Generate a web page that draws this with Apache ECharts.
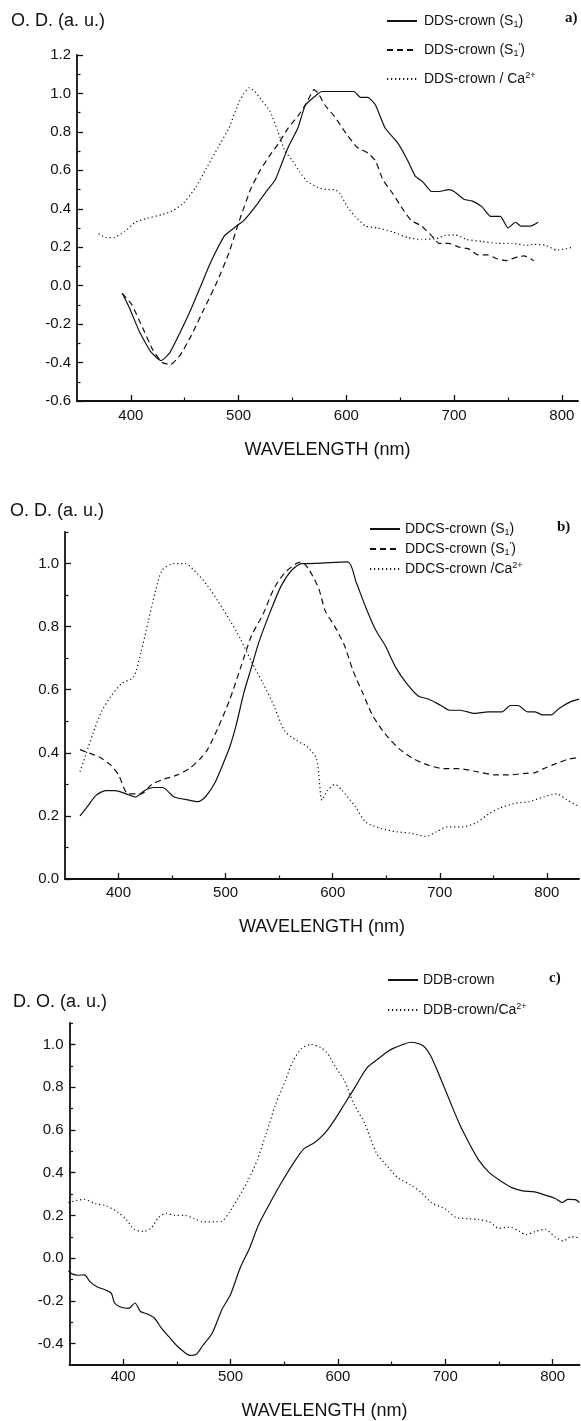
<!DOCTYPE html>
<html>
<head>
<meta charset="utf-8">
<script src="https://cdn.jsdelivr.net/npm/echarts@6.0.0/dist/echarts.min.js"></script>
<style>
  html, body { margin: 0; padding: 0; background: #fff; }
  #chart { width: 581px; height: 1421px; }
</style>
</head>
<body>
<div id="chart"></div>
<script>
// ---- panel a) DDS-crown ----
const aS1X = [392, 399, 408, 418, 428, 436, 446, 456, 465, 474, 487, 498, 505, 518, 527, 534, 539, 546, 555, 562, 572, 577, 607, 613, 620, 627, 636, 648, 657, 664, 671, 679, 686, 695, 700, 709, 717, 726, 734, 743, 750, 757, 762, 771, 778];
const aS1Y = [-0.04, -0.12, -0.24, -0.34, -0.39, -0.35, -0.24, -0.12, 0.0, 0.12, 0.26, 0.31, 0.34, 0.43, 0.50, 0.55, 0.62, 0.72, 0.82, 0.94, 0.99, 1.01, 1.01, 0.98, 0.98, 0.94, 0.82, 0.74, 0.65, 0.57, 0.54, 0.49, 0.49, 0.50, 0.49, 0.45, 0.44, 0.41, 0.36, 0.36, 0.30, 0.33, 0.31, 0.31, 0.33];
const aS1pX = [392, 401, 411, 420, 429, 437, 446, 456, 468, 480, 491, 499, 502, 511, 520, 528, 537, 546, 556, 563, 570, 574, 580, 589, 600, 610, 620, 627, 634, 643, 651, 660, 670, 679, 686, 695, 705, 714, 722, 731, 740, 748, 759, 765, 774];
const aS1pY = [-0.04, -0.10, -0.22, -0.33, -0.40, -0.41, -0.36, -0.26, -0.12, 0.02, 0.17, 0.31, 0.36, 0.50, 0.60, 0.67, 0.74, 0.82, 0.89, 0.95, 1.02, 1.00, 0.94, 0.88, 0.79, 0.72, 0.69, 0.65, 0.55, 0.48, 0.41, 0.34, 0.31, 0.26, 0.22, 0.22, 0.20, 0.19, 0.16, 0.16, 0.14, 0.13, 0.15, 0.155, 0.13];
const aCaX = [370, 377, 384, 394, 404, 415, 429, 439, 449, 460, 470, 481, 491, 500, 505, 510, 515, 522, 529, 536, 543, 550, 557, 564, 574, 582, 589, 594, 601, 608, 618, 629, 643, 657, 670, 684, 691, 701, 712, 726, 740, 754, 768, 774, 785, 795, 802, 810];
const aCaY = [0.27, 0.25, 0.25, 0.28, 0.33, 0.35, 0.37, 0.39, 0.43, 0.51, 0.61, 0.72, 0.82, 0.95, 1.00, 1.03, 1.01, 0.96, 0.91, 0.81, 0.70, 0.65, 0.59, 0.54, 0.51, 0.50, 0.50, 0.48, 0.41, 0.36, 0.31, 0.30, 0.28, 0.25, 0.24, 0.245, 0.26, 0.265, 0.24, 0.23, 0.22, 0.22, 0.21, 0.215, 0.21, 0.185, 0.19, 0.20];

// ---- panel b) DDCS-crown ----
const bS1X = [364, 371, 379, 388, 397, 407, 416, 424, 433, 441, 452, 466, 474, 481, 490, 497, 504, 510, 517, 524, 531, 542, 552, 562, 571, 576, 614, 622, 631, 640, 649, 659, 669, 680, 690, 701, 709, 719, 733, 745, 758, 766, 773, 782, 789, 796, 804, 811, 821, 830];
const bS1Y = [0.20, 0.23, 0.265, 0.28, 0.28, 0.27, 0.26, 0.28, 0.29, 0.29, 0.26, 0.25, 0.245, 0.26, 0.305, 0.36, 0.42, 0.49, 0.59, 0.67, 0.75, 0.85, 0.93, 0.98, 1.00, 1.00, 1.005, 0.94, 0.86, 0.79, 0.74, 0.67, 0.62, 0.58, 0.57, 0.55, 0.535, 0.535, 0.525, 0.53, 0.53, 0.55, 0.55, 0.53, 0.53, 0.52, 0.52, 0.54, 0.56, 0.57];
const bS1pX = [364, 372, 383, 393, 400, 409, 421, 431, 441, 455, 466, 476, 483, 493, 504, 514, 524, 535, 545, 555, 566, 571, 578, 587, 593, 602, 611, 619, 628, 637, 649, 663, 676, 690, 704, 717, 735, 752, 764, 780, 789, 797, 808, 820, 830];
const bS1pY = [0.41, 0.40, 0.385, 0.36, 0.33, 0.27, 0.27, 0.30, 0.315, 0.33, 0.35, 0.38, 0.41, 0.48, 0.57, 0.67, 0.77, 0.84, 0.92, 0.97, 1.00, 1.005, 0.98, 0.92, 0.85, 0.80, 0.74, 0.66, 0.59, 0.52, 0.46, 0.41, 0.38, 0.36, 0.35, 0.35, 0.34, 0.33, 0.33, 0.335, 0.337, 0.35, 0.365, 0.38, 0.385];
const bCaX = [364, 369, 376, 384, 393, 403, 414, 421, 428, 435, 441, 452, 462, 473, 483, 493, 504, 514, 524, 535, 545, 555, 566, 576, 585, 590, 595, 602, 609, 621, 631, 645, 659, 673, 687, 697, 707, 721, 735, 745, 756, 770, 783, 797, 809, 819, 830];
const bCaY = [0.34, 0.39, 0.46, 0.53, 0.58, 0.62, 0.64, 0.72, 0.82, 0.92, 0.98, 1.00, 1.00, 0.97, 0.93, 0.88, 0.82, 0.76, 0.69, 0.62, 0.55, 0.47, 0.44, 0.42, 0.38, 0.25, 0.28, 0.30, 0.28, 0.23, 0.18, 0.16, 0.15, 0.145, 0.135, 0.15, 0.165, 0.165, 0.18, 0.205, 0.225, 0.24, 0.245, 0.26, 0.27, 0.25, 0.23];

// ---- panel c) DDB-crown ----
const cDdbX = [349, 353, 358, 364, 369, 376, 384, 389, 392, 398, 405, 411, 416, 422, 429, 436, 443, 450, 457, 462, 468, 474, 483, 492, 500, 509, 518, 526, 537, 547, 558, 568, 578, 587, 596, 606, 616, 627, 637, 646, 651, 658, 668, 679, 686, 694, 703, 713, 722, 731, 741, 752, 762, 772, 783, 793, 802, 809, 814, 821, 825];
const cDdbY = [-0.06, -0.075, -0.08, -0.078, -0.11, -0.135, -0.15, -0.165, -0.21, -0.23, -0.235, -0.21, -0.25, -0.26, -0.28, -0.33, -0.37, -0.41, -0.44, -0.455, -0.45, -0.41, -0.35, -0.24, -0.17, -0.045, 0.05, 0.155, 0.26, 0.35, 0.44, 0.51, 0.54, 0.58, 0.64, 0.72, 0.80, 0.89, 0.93, 0.965, 0.98, 0.995, 1.01, 0.995, 0.95, 0.86, 0.75, 0.63, 0.54, 0.46, 0.40, 0.36, 0.33, 0.315, 0.31, 0.295, 0.28, 0.26, 0.275, 0.274, 0.26];
const cCaX = [349, 357, 364, 374, 384, 395, 403, 410, 419, 426, 433, 440, 448, 457, 466, 474, 485, 492, 499, 507, 516, 525, 533, 542, 551, 558, 566, 575, 584, 590, 597, 606, 615, 625, 636, 646, 656, 667, 677, 687, 700, 710, 721, 731, 741, 750, 760, 769, 775, 784, 793, 802, 810, 817, 825];
const cCaY = [0.26, 0.27, 0.275, 0.255, 0.245, 0.215, 0.18, 0.135, 0.125, 0.14, 0.19, 0.21, 0.20, 0.20, 0.185, 0.17, 0.17, 0.173, 0.215, 0.28, 0.36, 0.46, 0.58, 0.72, 0.83, 0.92, 0.98, 1.00, 0.985, 0.96, 0.90, 0.83, 0.72, 0.63, 0.49, 0.43, 0.375, 0.345, 0.31, 0.26, 0.23, 0.19, 0.185, 0.18, 0.17, 0.14, 0.145, 0.125, 0.11, 0.125, 0.135, 0.10, 0.08, 0.10, 0.095];

// tick positions
const xMajor = [400, 500, 600, 700, 800];
const xMinor = [450, 550, 650, 750];
const yMajorA = [-0.6, -0.4, -0.2, 0, 0.2, 0.4, 0.6, 0.8, 1.0, 1.2];
const yMinorA = [-0.5, -0.3, -0.1, 0.1, 0.3, 0.5, 0.7, 0.9, 1.1];
const yMajorB = [0, 0.2, 0.4, 0.6, 0.8, 1.0];
const yMinorB = [0.1, 0.3, 0.5, 0.7, 0.9, 1.1];
const yMajorC = [-0.4, -0.2, 0, 0.2, 0.4, 0.6, 0.8, 1.0];
const yMinorC = [-0.3, -0.1, 0.1, 0.3, 0.5, 0.7, 0.9, 1.1];

const FONT = 'Liberation Sans, Arial, sans-serif';
const INK = '#111';

function zip(xs, ys) {
  return xs.map((x, i) => [x, ys[i]]);
}

// legend labels with sub/superscripts
const legendText = {
  'DDS-crown (S1)': '{g|}{t|DDS-crown (S}{sub|1}{t|)}',
  "DDS-crown (S1')": "{g|}{t|DDS-crown (S}{sub|1}{sup|'}{t|)}",
  'DDS-crown / Ca2+': '{g|}{t|DDS-crown / Ca}{sup|2+}',
  'DDCS-crown (S1)': '{g|}{t|DDCS-crown (S}{sub|1}{t|)}',
  "DDCS-crown (S1')": "{g|}{t|DDCS-crown (S}{sub|1}{sup|'}{t|)}",
  'DDCS-crown /Ca2+': '{g|}{t|DDCS-crown /Ca}{sup|2+}',
  'DDB-crown': '{g|}{t|DDB-crown}',
  'DDB-crown/Ca2+': '{g|}{t|DDB-crown/Ca}{sup|2+}'
};

function legendRich(gap) {
  return {
    g: { width: gap },
    t: { fontSize: 14, fontFamily: FONT, color: INK, lineHeight: 16 },
    sub: { fontSize: 9, fontFamily: FONT, color: INK, lineHeight: 9, verticalAlign: 'bottom' },
    sup: { fontSize: 9, fontFamily: FONT, color: INK, lineHeight: 9, verticalAlign: 'top' }
  };
}

function makeLegend(names, left, top, gap, textGap) {
  return {
    data: names,
    orient: 'vertical',
    left: left,
    top: top,
    itemWidth: 30,
    itemHeight: 14,
    itemGap: gap,
    selectedMode: false,
    itemStyle: { opacity: 0 },
    formatter: name => legendText[name],
    textStyle: { rich: legendRich(textGap) }
  };
}

const styles = {
  solid: { color: INK, width: 1.2, type: 'solid' },
  dashed: { color: INK, width: 1.2, type: [6, 4] },
  dotted: { color: INK, width: 1.2, type: [1.2, 2.8] }
};

function line(name, xs, ys, style, idx, smooth) {
  return {
    name: name,
    type: 'line',
    xAxisIndex: idx * 2,
    yAxisIndex: idx * 2,
    data: zip(xs, ys),
    symbol: 'none',
    smooth: smooth,
    lineStyle: styles[style],
    itemStyle: { color: INK },
    silent: true
  };
}

// each grid gets a major axis pair (labels + long ticks) and a minor pair (short ticks)
function xAxesFor(gi, max, margin, nameGap) {
  return [
    {
      type: 'value', gridIndex: gi, position: 'bottom', min: 350, max: max,
      axisLine: { onZero: false, lineStyle: { color: INK, width: 1.8 } },
      axisTick: { inside: true, length: 6, customValues: xMajor, lineStyle: { color: INK, width: 1.3 } },
      axisLabel: { customValues: xMajor, margin: margin, fontSize: 15, fontFamily: FONT, color: INK },
      splitLine: { show: false },
      name: 'WAVELENGTH (nm)', nameLocation: 'middle', nameGap: nameGap,
      nameTextStyle: { fontSize: 18, fontFamily: FONT, color: INK }
    },
    {
      type: 'value', gridIndex: gi, position: 'bottom', min: 350, max: max,
      axisLine: { show: false, onZero: false },
      axisTick: { inside: true, length: 3.5, customValues: xMinor, lineStyle: { color: INK, width: 1.2 } },
      axisLabel: { show: false },
      splitLine: { show: false }
    }
  ];
}

function yAxesFor(gi, min, max, major, minor) {
  return [
    {
      type: 'value', gridIndex: gi, position: 'left', min: min, max: max,
      axisLine: { show: true, onZero: false, lineStyle: { color: INK, width: 1.8 } },
      axisTick: { show: true, inside: true, length: 6, customValues: major, lineStyle: { color: INK, width: 1.3 } },
      axisLabel: { customValues: major, margin: 6, fontSize: 15, fontFamily: FONT, color: INK, formatter: v => v.toFixed(1) },
      splitLine: { show: false }
    },
    {
      type: 'value', gridIndex: gi, position: 'left', min: min, max: max,
      axisLine: { show: false, onZero: false },
      axisTick: { show: true, inside: true, length: 3.5, customValues: minor, lineStyle: { color: INK, width: 1.2 } },
      axisLabel: { show: false },
      splitLine: { show: false }
    }
  ];
}

function label(text, x, y, size, extra) {
  return {
    type: 'text', left: x, top: y, silent: true,
    style: Object.assign({ text: text, fontSize: size, fontFamily: FONT, fill: INK }, extra || {})
  };
}

const chart = echarts.init(document.getElementById('chart'), null, { renderer: 'canvas' });

chart.setOption({
  backgroundColor: '#fff',
  animation: false,
  grid: [
    { left: 77, top: 55, width: 501, height: 346 },
    { left: 65, top: 532, width: 514, height: 347 },
    { left: 69.5, top: 1023, width: 510, height: 350 }
  ],
  xAxis: [].concat(
    xAxesFor(0, 815, 7, 40),
    xAxesFor(1, 830, 6, 39),
    xAxesFor(2, 825, 4, 37)
  ),
  yAxis: [].concat(
    yAxesFor(0, -0.6, 1.2, yMajorA, yMinorA),
    yAxesFor(1, 0, 1.1, yMajorB, yMinorB),
    yAxesFor(2, -0.5, 1.1, yMajorC, yMinorC)
  ),
  legend: [
    makeLegend(['DDS-crown (S1)', "DDS-crown (S1')", 'DDS-crown / Ca2+'], 381, 9, 13, 2),
    makeLegend(['DDCS-crown (S1)', "DDCS-crown (S1')", 'DDCS-crown /Ca2+'], 364, 517, 4, 0),
    makeLegend(['DDB-crown', 'DDB-crown/Ca2+'], 382, 968, 15, 0)
  ],
  graphic: [
    label('O. D. (a. u.)', 11, 12, 18),
    label('O. D. (a. u.)', 10, 502, 18),
    label('D. O. (a. u.)', 13, 993, 18),
    label('a)', 565, 11, 15, { fontFamily: 'Liberation Serif, serif', fontWeight: 'bold' }),
    label('b)', 557, 520, 15, { fontFamily: 'Liberation Serif, serif', fontWeight: 'bold' }),
    label('c)', 549, 971, 15, { fontFamily: 'Liberation Serif, serif', fontWeight: 'bold' })
  ],
  series: [
    line('DDS-crown (S1)', aS1X, aS1Y, 'solid', 0, 0.15),
    line("DDS-crown (S1')", aS1pX, aS1pY, 'dashed', 0, 0.15),
    line('DDS-crown / Ca2+', aCaX, aCaY, 'dotted', 0, 0.15),
    line('DDCS-crown (S1)', bS1X, bS1Y, 'solid', 1, 0.25),
    line("DDCS-crown (S1')", bS1pX, bS1pY, 'dashed', 1, 0.25),
    line('DDCS-crown /Ca2+', bCaX, bCaY, 'dotted', 1, 0.25),
    line('DDB-crown', cDdbX, cDdbY, 'solid', 2, 0.25),
    line('DDB-crown/Ca2+', cCaX, cCaY, 'dotted', 2, 0.25)
  ]
});
</script>
</body>
</html>
